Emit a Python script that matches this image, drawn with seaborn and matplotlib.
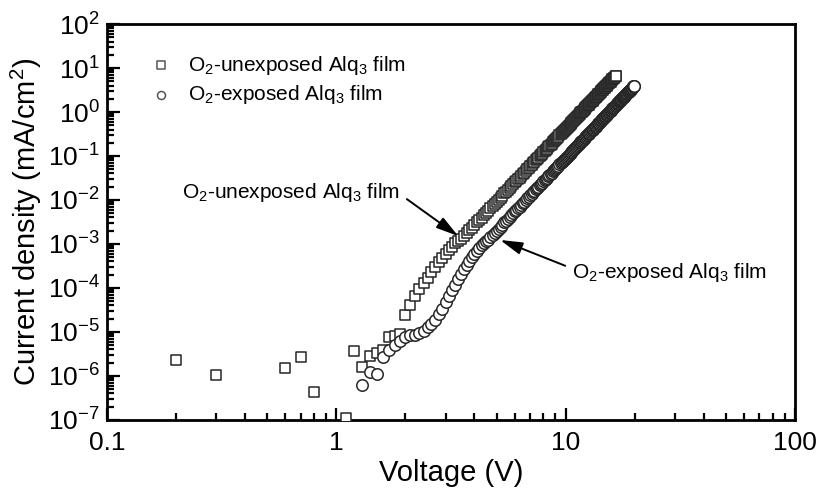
import matplotlib
matplotlib.use("Agg")
import matplotlib.pyplot as plt
from matplotlib.ticker import LogLocator, NullFormatter
import numpy as np
import pandas as pd
import seaborn as sns

# ─────────────────────────────────────────────────────────────────
# Data (voltage in V, log10 of J in mA/cm2)
# ─────────────────────────────────────────────────────────────────

LABEL_UNEXP = "O$_2$-unexposed Alq$_3$ film"
LABEL_EXP = "O$_2$-exposed Alq$_3$ film"

unexp_volt = [
    0.2, 0.3, 0.6, 0.7, 0.8, 1.1, 1.2, 1.3,
    1.4, 1.5, 1.6, 1.7, 1.8, 1.9, 2.0, 2.1, 2.2, 2.3,
    2.4, 2.5, 2.6, 2.7, 2.8, 2.9, 3.0, 3.1, 3.2, 3.3,
    3.4, 3.5, 3.6, 3.7, 3.8, 3.9, 4.0, 4.1, 4.2, 4.3,
    4.4, 4.5, 4.6, 4.7, 4.8, 4.9, 5.0, 5.1, 5.2, 5.3,
    5.4, 5.5, 5.6, 5.7, 5.8, 5.9, 6.0, 6.1, 6.2, 6.3,
    6.4, 6.5, 6.6, 6.7, 6.8, 6.9, 7.0, 7.1, 7.2, 7.3,
    7.4, 7.5, 7.6, 7.7, 7.8, 7.9, 8.0, 8.1, 8.2, 8.3,
    8.4, 8.5, 8.6, 8.7, 8.8, 8.9, 9.0, 9.1, 9.2, 9.3,
    9.4, 9.5, 9.6, 9.7, 9.8, 9.9, 10.0, 10.1, 10.2, 10.3,
    10.4, 10.5, 10.6, 10.7, 10.8, 10.9, 11.0, 11.1, 11.2, 11.3,
    11.4, 11.5, 11.6, 11.7, 11.8, 11.9, 12.0, 12.1, 12.2, 12.3,
    12.4, 12.5, 12.6, 12.7, 12.8, 12.9, 13.0, 13.1, 13.2, 13.3,
    13.4, 13.5, 13.6, 13.7, 13.8, 13.9, 14.0, 14.1, 14.2, 14.3,
    14.4, 14.5, 14.6, 14.7, 14.8, 14.9, 15.0, 15.1, 15.2, 15.3,
    15.4, 15.5, 15.6, 15.7, 15.8, 15.9, 16.0, 16.1, 16.2, 16.3,
    16.4, 16.5, 16.6,
]
unexp_logj = [
    -5.64, -5.98, -5.83, -5.56, -6.36, -6.96, -5.43, -5.80,
    -5.55, -5.48, -5.42, -5.12, -5.10, -5.05, -4.62, -4.38, -4.18, -4.02,
    -3.89, -3.77, -3.64, -3.53, -3.42, -3.31, -3.22, -3.14, -3.06, -2.99,
    -2.94, -2.89, -2.82, -2.76, -2.69, -2.63, -2.57, -2.51, -2.46, -2.40,
    -2.34, -2.29, -2.24, -2.19, -2.14, -2.09, -2.04, -1.99, -1.95, -1.90,
    -1.85, -1.81, -1.77, -1.73, -1.68, -1.64, -1.60, -1.56, -1.52, -1.49,
    -1.45, -1.41, -1.38, -1.34, -1.30, -1.27, -1.23, -1.20, -1.17, -1.13,
    -1.10, -1.07, -1.04, -1.01, -0.98, -0.95, -0.92, -0.89, -0.86, -0.83,
    -0.80, -0.77, -0.74, -0.72, -0.69, -0.66, -0.63, -0.61, -0.58, -0.56,
    -0.53, -0.50, -0.48, -0.46, -0.43, -0.41, -0.38, -0.36, -0.34, -0.31,
    -0.29, -0.27, -0.24, -0.22, -0.20, -0.18, -0.15, -0.13, -0.11, -0.09,
    -0.07, -0.05, -0.03, -0.01, 0.01, 0.03, 0.05, 0.07, 0.09, 0.11,
    0.13, 0.15, 0.17, 0.19, 0.21, 0.23, 0.24, 0.26, 0.28, 0.30,
    0.32, 0.33, 0.35, 0.37, 0.39, 0.40, 0.42, 0.44, 0.46, 0.47,
    0.49, 0.51, 0.52, 0.54, 0.55, 0.57, 0.59, 0.60, 0.62, 0.63,
    0.65, 0.66, 0.68, 0.69, 0.71, 0.73, 0.74, 0.76, 0.77, 0.78,
    0.80, 0.81, 0.83,
]

exp_volt = [
    1.3, 1.4, 1.5, 1.6, 1.7, 1.8, 1.9, 2.0, 2.1, 2.2,
    2.3, 2.4, 2.5, 2.6, 2.7, 2.8, 2.9, 3.0, 3.1, 3.2,
    3.3, 3.4, 3.5, 3.6, 3.7, 3.8, 3.9, 4.0, 4.1, 4.2,
    4.3, 4.4, 4.5, 4.6, 4.7, 4.8, 4.9, 5.0, 5.1, 5.2,
    5.3, 5.4, 5.5, 5.6, 5.7, 5.8, 5.9, 6.0, 6.1, 6.2,
    6.3, 6.4, 6.5, 6.6, 6.7, 6.8, 6.9, 7.0, 7.1, 7.2,
    7.3, 7.4, 7.5, 7.6, 7.7, 7.8, 7.9, 8.0, 8.1, 8.2,
    8.3, 8.4, 8.5, 8.6, 8.7, 8.8, 8.9, 9.0, 9.1, 9.2,
    9.3, 9.4, 9.5, 9.6, 9.7, 9.8, 9.9, 10.0, 10.1, 10.2,
    10.3, 10.4, 10.5, 10.6, 10.7, 10.8, 10.9, 11.0, 11.1, 11.2,
    11.3, 11.4, 11.5, 11.6, 11.7, 11.8, 11.9, 12.0, 12.1, 12.2,
    12.3, 12.4, 12.5, 12.6, 12.7, 12.8, 12.9, 13.0, 13.1, 13.2,
    13.3, 13.4, 13.5, 13.6, 13.7, 13.8, 13.9, 14.0, 14.1, 14.2,
    14.3, 14.4, 14.5, 14.6, 14.7, 14.8, 14.9, 15.0, 15.1, 15.2,
    15.3, 15.4, 15.5, 15.6, 15.7, 15.8, 15.9, 16.0, 16.1, 16.2,
    16.3, 16.4, 16.5, 16.6, 16.7, 16.8, 16.9, 17.0, 17.1, 17.2,
    17.3, 17.4, 17.5, 17.6, 17.7, 17.8, 17.9, 18.0, 18.1, 18.2,
    18.3, 18.4, 18.5, 18.6, 18.7, 18.8, 18.9, 19.0, 19.1, 19.2,
    19.3, 19.4, 19.5, 19.6, 19.7, 19.8, 19.9,
]
exp_logj = [
    -6.20, -5.92, -5.95, -5.58, -5.42, -5.30, -5.20, -5.12, -5.08, -5.06,
    -5.02, -4.97, -4.90, -4.82, -4.72, -4.60, -4.47, -4.33, -4.18, -4.05,
    -3.93, -3.80, -3.68, -3.57, -3.47, -3.38, -3.30, -3.22, -3.15, -3.09,
    -3.03, -2.98, -2.94, -2.90, -2.85, -2.80, -2.75, -2.70, -2.65, -2.61,
    -2.56, -2.51, -2.47, -2.43, -2.39, -2.34, -2.30, -2.26, -2.22, -2.18,
    -2.15, -2.11, -2.07, -2.04, -2.00, -1.96, -1.93, -1.89, -1.86, -1.83,
    -1.79, -1.76, -1.73, -1.70, -1.67, -1.64, -1.61, -1.58, -1.55, -1.52,
    -1.49, -1.46, -1.43, -1.40, -1.38, -1.35, -1.32, -1.29, -1.27, -1.24,
    -1.22, -1.19, -1.16, -1.14, -1.12, -1.09, -1.07, -1.04, -1.02, -1.00,
    -0.97, -0.95, -0.93, -0.90, -0.88, -0.86, -0.84, -0.81, -0.79, -0.77,
    -0.75, -0.73, -0.71, -0.69, -0.67, -0.65, -0.63, -0.61, -0.59, -0.57,
    -0.55, -0.53, -0.51, -0.49, -0.47, -0.45, -0.43, -0.42, -0.40, -0.38,
    -0.36, -0.34, -0.33, -0.31, -0.29, -0.27, -0.26, -0.24, -0.22, -0.20,
    -0.19, -0.17, -0.15, -0.14, -0.12, -0.11, -0.09, -0.07, -0.06, -0.04,
    -0.03, -0.01, 0.00, 0.02, 0.03, 0.05, 0.07, 0.08, 0.10, 0.11,
    0.12, 0.14, 0.15, 0.17, 0.18, 0.20, 0.21, 0.22, 0.24, 0.25,
    0.27, 0.28, 0.29, 0.31, 0.32, 0.33, 0.35, 0.36, 0.37, 0.39,
    0.40, 0.41, 0.43, 0.44, 0.45, 0.46, 0.48, 0.49, 0.50, 0.51,
    0.53, 0.54, 0.55, 0.56, 0.58, 0.59, 0.60,
]

x_ticks = [0.1, 1, 10, 100]
x_ticklabels = ["0.1", "1", "10", "100"]
y_limits = (1e-7, 1e2)

# arrow tips (V, log10 J) and label anchors
unexp_arrow_tip = (3.40, -2.82)
unexp_text_pos = (1.90, -1.82)
exp_arrow_tip = (5.18, -2.91)
exp_text_pos = (10.7, -3.64)


def build_frame() -> pd.DataFrame:
    a = pd.DataFrame({"voltage": unexp_volt, "logj": unexp_logj, "film": LABEL_UNEXP})
    b = pd.DataFrame({"voltage": exp_volt, "logj": exp_logj, "film": LABEL_EXP})
    df = pd.concat([a, b], ignore_index=True)
    df["current"] = 10.0 ** df["logj"]
    return df


def main():
    sns.set_style("ticks")
    rc = plt.rcParams
    rc["font.family"] = ["Liberation Sans", "DejaVu Sans"]
    rc["mathtext.fontset"] = "custom"
    rc["mathtext.rm"] = "Liberation Sans"
    rc["mathtext.it"] = "Liberation Sans:italic"
    rc["mathtext.bf"] = "Liberation Sans:bold"
    rc["axes.unicode_minus"] = False
    for key in ("text.color", "axes.labelcolor", "xtick.color", "ytick.color",
                "xtick.labelcolor", "ytick.labelcolor"):
        rc[key] = "black"

    df = build_frame()

    fig = plt.figure(figsize=(8.29, 5.01), dpi=100)
    ax = fig.add_axes([0.129, 0.162, 0.830, 0.790])

    edge = "#262626"
    sns.scatterplot(data=df[df.film == LABEL_UNEXP], x="voltage", y="current",
                    marker="s", s=54, color="white", edgecolor=edge, linewidth=1.1,
                    label=LABEL_UNEXP, ax=ax, zorder=3)
    sns.scatterplot(data=df[df.film == LABEL_EXP], x="voltage", y="current",
                    marker="o", s=68, color="white", edgecolor=edge, linewidth=1.1,
                    label=LABEL_EXP, ax=ax, zorder=4)

    ax.set_xscale("log")
    ax.set_yscale("log")
    ax.set_xlim(x_ticks[0], x_ticks[-1])
    ax.set_ylim(*y_limits)

    ax.set_xticks(x_ticks)
    ax.set_xticklabels(x_ticklabels)
    ax.xaxis.set_minor_locator(LogLocator(base=10, subs=np.arange(2, 10), numticks=100))
    ax.xaxis.set_minor_formatter(NullFormatter())
    ax.yaxis.set_major_locator(LogLocator(base=10, numticks=100))
    ax.yaxis.set_minor_locator(LogLocator(base=10, subs=np.arange(2, 10), numticks=100))
    ax.yaxis.set_minor_formatter(NullFormatter())

    ax.tick_params(which="both", direction="in", top=False, right=False, width=1.6, color="black")
    ax.tick_params(which="major", length=9, labelsize=19)
    ax.tick_params(axis="x", which="major", pad=8)
    ax.tick_params(axis="y", which="major", pad=5)
    ax.tick_params(which="minor", length=5)
    for sp in ax.spines.values():
        sp.set_linewidth(2.0)
        sp.set_color("black")

    ax.set_xlabel("Voltage (V)", fontsize=21, labelpad=3)
    ax.set_ylabel("Current density (mA/cm$^2$)", fontsize=21, labelpad=3)

    arrow = dict(arrowstyle="-|>,head_length=0.9,head_width=0.25", color="black",
                 lw=1.4, shrinkA=3, shrinkB=0)
    ax.annotate(LABEL_UNEXP, xy=(unexp_arrow_tip[0], 10 ** unexp_arrow_tip[1]),
                xytext=(unexp_text_pos[0], 10 ** unexp_text_pos[1]),
                ha="right", va="center", fontsize=15,
                arrowprops=dict(arrow, relpos=(1.0, 0.4)))
    ax.annotate(LABEL_EXP, xy=(exp_arrow_tip[0], 10 ** exp_arrow_tip[1]),
                xytext=(exp_text_pos[0], 10 ** exp_text_pos[1]),
                ha="left", va="center", fontsize=15,
                arrowprops=dict(arrow, relpos=(0.0, 0.65)))

    leg = ax.legend(loc="upper left", bbox_to_anchor=(0.064, 0.925), frameon=False,
                    fontsize=15, markerscale=0.7, handlelength=1.0, handletextpad=0.8,
                    labelspacing=0.3, borderpad=0, borderaxespad=0)
    for h in leg.legend_handles:
        h.set_edgecolor("#555555")

    fig.savefig("out.png", dpi=100)
    plt.close(fig)


if __name__ == "__main__":
    main()
